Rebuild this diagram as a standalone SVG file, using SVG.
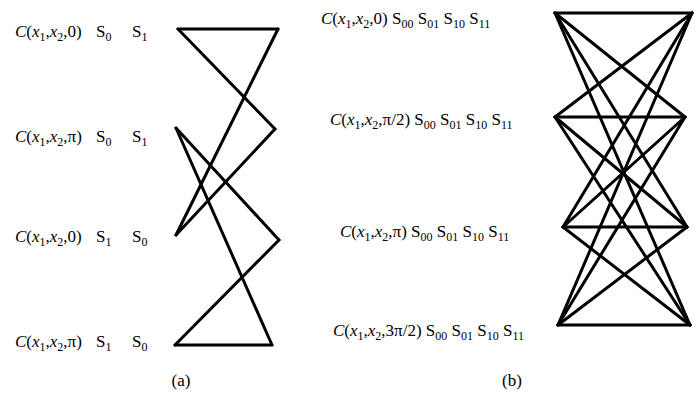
<svg xmlns="http://www.w3.org/2000/svg" width="699" height="394" viewBox="0 0 699 394">
<style>
text{font-family:"Liberation Serif","Times New Roman",serif;font-size:17px;fill:#000}
.i{font-style:italic}
.s{font-size:12px}
.e line{stroke:#000;stroke-width:3;stroke-linecap:round}
</style>
<rect width="699" height="394" fill="#fff"/>
<g id="labels-a">
<text x="15" y="37"><tspan class="i">C</tspan>(<tspan class="i">x</tspan><tspan class="s" dy="4">1</tspan><tspan dy="-4">,</tspan><tspan class="i">x</tspan><tspan class="s" dy="4">2</tspan><tspan dy="-4">,0)</tspan></text>
<text x="96" y="37">S<tspan class="s" dy="4">0</tspan></text>
<text x="132" y="37">S<tspan class="s" dy="4">1</tspan></text>
<text x="15" y="142"><tspan class="i">C</tspan>(<tspan class="i">x</tspan><tspan class="s" dy="4">1</tspan><tspan dy="-4">,</tspan><tspan class="i">x</tspan><tspan class="s" dy="4">2</tspan><tspan dy="-4">,π)</tspan></text>
<text x="96" y="142">S<tspan class="s" dy="4">0</tspan></text>
<text x="132" y="142">S<tspan class="s" dy="4">1</tspan></text>
<text x="15" y="242"><tspan class="i">C</tspan>(<tspan class="i">x</tspan><tspan class="s" dy="4">1</tspan><tspan dy="-4">,</tspan><tspan class="i">x</tspan><tspan class="s" dy="4">2</tspan><tspan dy="-4">,0)</tspan></text>
<text x="96" y="242">S<tspan class="s" dy="4">1</tspan></text>
<text x="132" y="242">S<tspan class="s" dy="4">0</tspan></text>
<text x="15" y="347"><tspan class="i">C</tspan>(<tspan class="i">x</tspan><tspan class="s" dy="4">1</tspan><tspan dy="-4">,</tspan><tspan class="i">x</tspan><tspan class="s" dy="4">2</tspan><tspan dy="-4">,π)</tspan></text>
<text x="96" y="347">S<tspan class="s" dy="4">1</tspan></text>
<text x="132" y="347">S<tspan class="s" dy="4">0</tspan></text>
<text x="181" y="386" text-anchor="middle">(a)</text>
</g>
<g id="labels-b">
<text x="321" y="24"><tspan class="i">C</tspan>(<tspan class="i">x</tspan><tspan class="s" dy="4">1</tspan><tspan dy="-4">,</tspan><tspan class="i">x</tspan><tspan class="s" dy="4">2</tspan><tspan dy="-4">,0) S</tspan><tspan class="s" dy="4">00</tspan><tspan dy="-4"> S</tspan><tspan class="s" dy="4">01</tspan><tspan dy="-4"> S</tspan><tspan class="s" dy="4">10</tspan><tspan dy="-4"> S</tspan><tspan class="s" dy="4">11</tspan></text>
<text x="330" y="125"><tspan class="i">C</tspan>(<tspan class="i">x</tspan><tspan class="s" dy="4">1</tspan><tspan dy="-4">,</tspan><tspan class="i">x</tspan><tspan class="s" dy="4">2</tspan><tspan dy="-4">,π/2) S</tspan><tspan class="s" dy="4">00</tspan><tspan dy="-4"> S</tspan><tspan class="s" dy="4">01</tspan><tspan dy="-4"> S</tspan><tspan class="s" dy="4">10</tspan><tspan dy="-4"> S</tspan><tspan class="s" dy="4">11</tspan></text>
<text x="340" y="237"><tspan class="i">C</tspan>(<tspan class="i">x</tspan><tspan class="s" dy="4">1</tspan><tspan dy="-4">,</tspan><tspan class="i">x</tspan><tspan class="s" dy="4">2</tspan><tspan dy="-4">,π) S</tspan><tspan class="s" dy="4">00</tspan><tspan dy="-4"> S</tspan><tspan class="s" dy="4">01</tspan><tspan dy="-4"> S</tspan><tspan class="s" dy="4">10</tspan><tspan dy="-4"> S</tspan><tspan class="s" dy="4">11</tspan></text>
<text x="333" y="336"><tspan class="i">C</tspan>(<tspan class="i">x</tspan><tspan class="s" dy="4">1</tspan><tspan dy="-4">,</tspan><tspan class="i">x</tspan><tspan class="s" dy="4">2</tspan><tspan dy="-4">,3π/2) S</tspan><tspan class="s" dy="4">00</tspan><tspan dy="-4"> S</tspan><tspan class="s" dy="4">01</tspan><tspan dy="-4"> S</tspan><tspan class="s" dy="4">10</tspan><tspan dy="-4"> S</tspan><tspan class="s" dy="4">11</tspan></text>
<text x="512" y="386" text-anchor="middle">(b)</text>
</g>
<g id="connectors-a" class="e">
<line x1="178" y1="29" x2="278" y2="29"/>
<line x1="178" y1="29" x2="275" y2="129"/>
<line x1="278" y1="29" x2="176" y2="235"/>
<line x1="275" y1="129" x2="176" y2="235"/>
<line x1="176" y1="128" x2="279" y2="240"/>
<line x1="176" y1="128" x2="272" y2="345"/>
<line x1="279" y1="240" x2="175" y2="345"/>
<line x1="175" y1="345" x2="272" y2="345"/>
</g>
<g id="connectors-b" class="e">
<line x1="555" y1="13" x2="692" y2="13"/>
<line x1="555" y1="13" x2="685" y2="117"/>
<line x1="555" y1="13" x2="687" y2="227"/>
<line x1="555" y1="13" x2="690" y2="325"/>
<line x1="555" y1="117" x2="692" y2="13"/>
<line x1="555" y1="117" x2="685" y2="117"/>
<line x1="555" y1="117" x2="687" y2="227"/>
<line x1="555" y1="117" x2="690" y2="325"/>
<line x1="563" y1="227" x2="692" y2="13"/>
<line x1="563" y1="227" x2="685" y2="117"/>
<line x1="563" y1="227" x2="687" y2="227"/>
<line x1="563" y1="227" x2="690" y2="325"/>
<line x1="558" y1="325" x2="692" y2="13"/>
<line x1="558" y1="325" x2="685" y2="117"/>
<line x1="558" y1="325" x2="687" y2="227"/>
<line x1="558" y1="325" x2="690" y2="325"/>
</g>
</svg>
